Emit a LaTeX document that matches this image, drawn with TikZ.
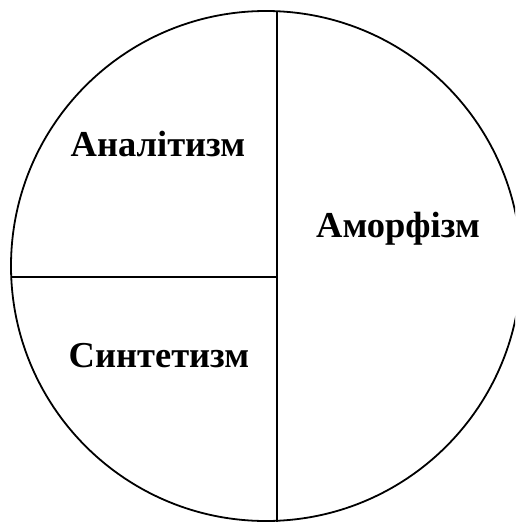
\documentclass[tikz,border=0pt]{standalone}
\usepackage{fontspec}
\setmainfont{Liberation Serif}
\begin{document}
\begin{tikzpicture}[x=1pt,y=-1pt,
  lbl/.style={font=\fontsize{36.5}{42}\selectfont\bfseries, anchor=base, inner sep=0pt},
  ln/.style={line width=1.8pt, black}]
\useasboundingbox (0,0) rectangle (515,522);
\clip (0,0) rectangle (515,522);
\fill[white] (0,0) rectangle (515,522);
\coordinate (c) at (266,266);
\draw[ln] (c) circle[radius=255];
\coordinate (vt) at (277,11);
\coordinate (vb) at (277,522);
\coordinate (hl) at (11.2,277);
\coordinate (hr) at (277,277);
\draw[ln] (vt) -- (vb);
\draw[ln] (hl) -- (hr);
\node[lbl] (a) at (158,156) {Аналітизм};
\node[lbl] (b) at (398,237) {Аморфізм};
\node[lbl] (s) at (159,367) {Синтетизм};
\end{tikzpicture}
\end{document}
